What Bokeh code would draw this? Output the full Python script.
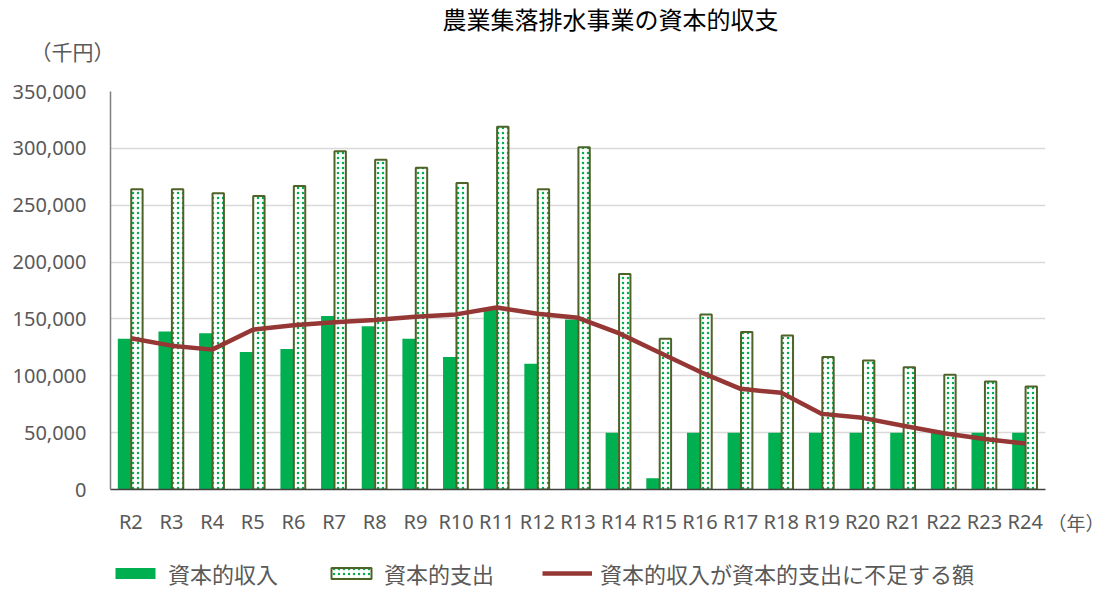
from bokeh.plotting import figure
from bokeh.layouts import column
from bokeh.models import (FactorRange, Range1d, ColumnDataSource, FixedTicker,
                          NumeralTickFormatter, Legend, LegendItem, Label)
from bokeh.transform import dodge
from bokeh.embed import file_html
from bokeh.resources import INLINE

# ---- data ----
categories = ["R2", "R3", "R4", "R5", "R6", "R7", "R8", "R9", "R10", "R11", "R12",
              "R13", "R14", "R15", "R16", "R17", "R18", "R19", "R20", "R21", "R22",
              "R23", "R24"]
income = [132500, 139000, 137500, 121000, 123500, 152500, 143500, 132500, 116500,
          158000, 110500, 149500, 50000, 10000, 50000, 50000, 50000, 50000, 50000,
          50000, 50000, 50000, 50000]
expenditure = [264000, 264000, 260500, 258000, 267000, 297500, 290000, 283000, 269500,
               319000, 264000, 301000, 189500, 132500, 154000, 138500, 135500, 116500,
               113500, 107500, 101000, 95000, 90500]
shortfall = [133000, 126500, 123000, 140500, 144500, 147000, 149000, 152000, 154000,
             160000, 154500, 151000, 137500, 120500, 103500, 88500, 85000, 66500,
             63000, 56000, 49500, 44500, 40500]
y_ticks = [0, 50000, 100000, 150000, 200000, 250000, 300000, 350000]

title_text = "農業集落排水事業の資本的収支"
y_unit = "（千円）"
x_unit = "（年）"
names = ["資本的収入", "資本的支出", "資本的収入が資本的支出に不足する額"]

src = ColumnDataSource(dict(cat=categories, income=income,
                            expenditure=expenditure, shortfall=shortfall))

JP = "Noto Sans CJK JP"
GRAY = "#595959"
GREEN = "#00B050"
OLIVE = "#4F6228"
RED = "#953735"

inc_style = dict(fill_color=GREEN, line_color=None)
exp_style = dict(fill_color="white", line_color=OLIVE, line_width=2,
                 hatch_pattern="dot", hatch_color=GREEN, hatch_scale=5,
                 hatch_weight=1.5)
line_style = dict(line_color=RED, line_width=4.5)

p = figure(x_range=FactorRange(*categories), y_range=Range1d(0, 350000),
           frame_width=935, frame_height=398, output_backend="svg",
           toolbar_location=None,
           min_border_left=110, min_border_right=61, min_border_top=91,
           min_border_bottom=56)
p.outline_line_color = None
p.background_fill_color = "white"
p.border_fill_color = "white"

p.vbar(x=dodge("cat", -0.16, range=p.x_range), top="income", width=0.32,
       source=src, **inc_style)
p.vbar(x=dodge("cat", 0.15, range=p.x_range), top="expenditure", width=0.28,
       source=src, **exp_style)
p.line(x="cat", y="shortfall", source=src, **line_style)

# axes
p.yaxis.ticker = FixedTicker(ticks=y_ticks)
p.yaxis.formatter = NumeralTickFormatter(format="0,0")
p.yaxis.major_label_text_font = "Noto Sans"
p.yaxis.major_label_text_font_size = "20px"
p.yaxis.major_label_text_color = GRAY
p.yaxis.major_label_standoff = 18
p.yaxis.major_tick_line_color = None
p.yaxis.minor_tick_line_color = None
p.yaxis.axis_line_color = "#7F7F7F"
p.yaxis.axis_line_width = 1.5

p.xaxis.major_label_text_font = "Noto Sans"
p.xaxis.major_label_text_font_size = "20px"
p.xaxis.major_label_text_color = GRAY
p.xaxis.major_label_standoff = 12
p.xaxis.major_tick_line_color = None
p.xaxis.minor_tick_line_color = None
p.xaxis.axis_line_color = "#404040"
p.xaxis.axis_line_width = 1.5

p.xgrid.grid_line_color = None
p.ygrid.grid_line_color = "#D9D9D9"
p.ygrid.grid_line_width = 1.5

# texts in side panels (screen px measured from the frame edges)
p.add_layout(Label(x=59, y=-33, x_units="screen", y_units="screen", text=x_unit,
                   text_align="right", text_baseline="middle", text_font=JP,
                   text_font_size="19px", text_color=GRAY), "right")
p.add_layout(Label(x=-38, y=41, x_units="screen", y_units="screen", text=y_unit,
                   text_align="center", text_baseline="middle", text_font=JP,
                   text_font_size="21px", text_color=GRAY), "above")
p.add_layout(Label(x=500, y=43, x_units="screen", y_units="screen", text=title_text,
                   text_align="center", text_baseline="middle", text_font=JP,
                   text_font_size="24px", text_color="#000000"), "above")

# legend strip: a small figure sharing the chart's ranges; its copies of the
# series are hidden and only serve as legend swatches
q = figure(x_range=p.x_range, y_range=p.y_range, width=1106, height=45,
           output_backend="svg", toolbar_location=None, min_border=0,
           x_axis_location=None, y_axis_location=None)
q.outline_line_color = None
q.xgrid.grid_line_color = None
q.ygrid.grid_line_color = None
l1 = q.vbar(x=dodge("cat", -0.16, range=p.x_range), top="income", width=0.32,
            source=src, visible=False, **inc_style)
l2 = q.vbar(x=dodge("cat", 0.15, range=p.x_range), top="expenditure", width=0.28,
            source=src, visible=False, **exp_style)
l3 = q.line(x="cat", y="shortfall", source=src, visible=False, **line_style)

legend = Legend(items=[LegendItem(label=names[0], renderers=[l1]),
                       LegendItem(label=names[1], renderers=[l2]),
                       LegendItem(label=names[2], renderers=[l3])],
                orientation="horizontal", location=(0, 1),
                label_text_font=JP, label_text_font_size="22px",
                label_text_color=GRAY, glyph_width=50, glyph_height=14,
                label_standoff=8, spacing=48, padding=0, margin=0,
                border_line_color=None, background_fill_alpha=0,
                inactive_fill_alpha=0)
q.add_layout(legend)

layout = column(p, q, spacing=0)
open("out.html", "w").write(file_html(layout, INLINE))
